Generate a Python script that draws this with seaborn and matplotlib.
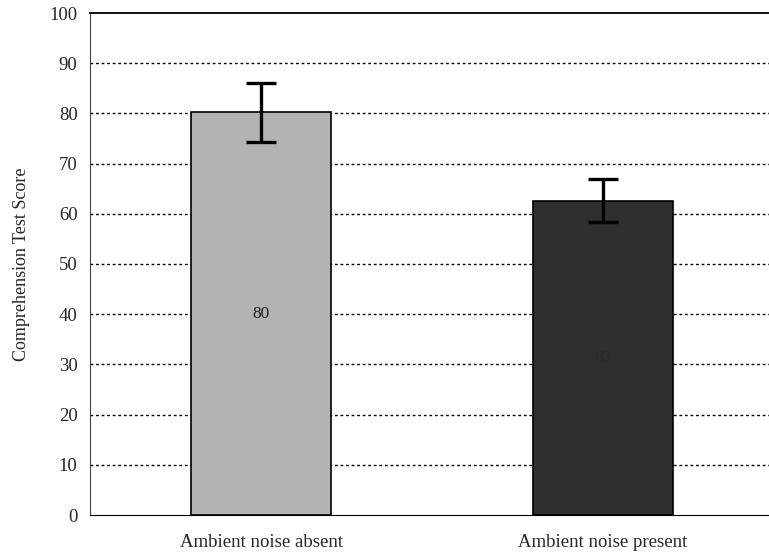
import matplotlib
matplotlib.use("Agg")
import matplotlib.pyplot as plt
import seaborn as sns
import pandas as pd

# data
conditions = ["Ambient noise absent", "Ambient noise present"]
scores = [80.2, 62.6]
errors = [5.8, 4.3]
bar_labels = ["80", "63"]
y_ticks = [0, 10, 20, 30, 40, 50, 60, 70, 80, 90, 100]

sns.set_style("white")
plt.rcParams["font.family"] = ["Liberation Serif", "DejaVu Serif"]

df = pd.DataFrame({"condition": conditions, "score": scores})

fig = plt.figure(figsize=(7.69, 5.58), dpi=100)
ax = fig.add_axes([90 / 769, 43 / 558, 679 / 769, 502 / 558])

sns.barplot(data=df, x="condition", y="score", hue="condition",
            palette=["#b3b3b3", "#2f2f2f"], width=0.41, errorbar=None,
            edgecolor="black", linewidth=1.2, legend=False, ax=ax, zorder=3)

ax.errorbar(x=list(range(len(conditions))), y=scores, yerr=errors, fmt="none",
            ecolor="black", elinewidth=2.4, capsize=11, capthick=2.4, zorder=4)

# value labels in the middle of the bars (the second one is nearly lost on the dark bar)
ax.text(0, scores[0] / 2, bar_labels[0], ha="center", va="center",
        fontsize=12.5, color="#222222", zorder=5)
ax.text(1, scores[1] / 2, bar_labels[1], ha="center", va="center",
        fontsize=12.5, color="#2a2a2a", zorder=5)

ax.set_ylim(0, 100)
ax.set_xlim(-0.5, 1.485)
ax.set_yticks(y_ticks)
ax.set_yticklabels([str(t) for t in y_ticks], fontsize=13.5)
for t in y_ticks[1:-1]:
    ax.axhline(t, color="black", linestyle=(0, (2, 2)), linewidth=1.0, zorder=1)

ax.set_xticks([0, 1])
ax.set_xticklabels(conditions, fontsize=13.5)
ax.set_xticks([0.5], minor=True)
ax.tick_params(axis="x", which="major", length=0, pad=14)
ax.tick_params(axis="x", which="minor", length=5, width=1, direction="out", color="#555555")
ax.tick_params(axis="y", length=5, width=1, direction="out", color="black", pad=4)

ax.set_xlabel("")
ax.set_ylabel("Comprehension Test Score", fontsize=13, labelpad=14)

ax.spines["left"].set_color("#444444")
ax.spines["bottom"].set_color("black")
ax.spines["top"].set_color("black")
ax.spines["top"].set_linewidth(1.3)
ax.spines["right"].set_visible(False)

fig.savefig("out.png", dpi=100)
